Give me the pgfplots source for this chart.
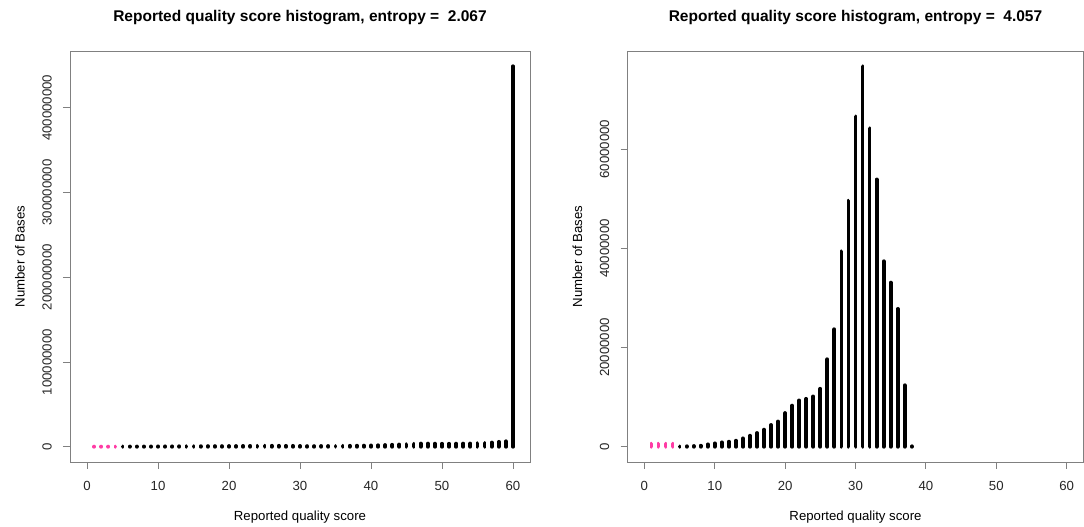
\documentclass[border=0pt]{standalone}
\usepackage{fontspec}
\setmainfont{Liberation Sans}
\usepackage{pgfplots}
\pgfplotsset{compat=1.18}
\definecolor{rpink}{RGB}{255,60,165}
\definecolor{boxgray}{RGB}{128,128,128}
\pgfplotsset{
  rstyle/.style={
    scale only axis,
    height=411pt,
    xmin=-2.4, xmax=62.4,
    axis line style={draw=boxgray, line width=0.8pt},
    tick style={draw=boxgray, line width=0.8pt},
    tick align=outside,
    major tick length=7pt,
    xtick pos=bottom, ytick pos=left,
    xtick={0,10,20,30,40,50,60},
    xticklabels={0,10,20,30,40,50,60},
    /pgf/number format/assume math mode=true,
    ticklabel style={font=\fontsize{13.2}{15}\selectfont, text=black!85},
    xticklabel style={anchor=center, yshift=-17pt},
    yticklabel style={rotate=90, anchor=center, yshift=16pt},
    every axis x label/.style={at={(axis description cs:0.5,0)}, yshift=-55pt, anchor=center, font=\fontsize{13.2}{15}\selectfont},
    every axis y label/.style={at={(axis description cs:0,0.5)}, xshift=-50pt, anchor=center, rotate=90, font=\fontsize{13.2}{15}\selectfont},
    every axis title/.style={at={(axis description cs:0.5,1)}, yshift=33pt, anchor=center, font=\bfseries\fontsize{15.5}{18}\selectfont},
    xlabel={Reported quality score},
    ylabel={Number of Bases},
    scaled y ticks=false,
  },
  bars/.style={ycomb, line width=3.8pt, line cap=round, mark=none},
}
\begin{document}
\begin{tikzpicture}
\path[use as bounding box] (0,0) rectangle (1084pt,527pt);
\begin{axis}[rstyle, at={(70pt,65pt)}, anchor=south west, width=460pt,
  ymin=-1.796e7, ymax=4.67e8,
  ytick={0,1e8,2e8,3e8,4e8},
  yticklabels={0,100000000,200000000,300000000,400000000},
  title={Reported quality score histogram, entropy =\ \ 2.067}]
\addplot[bars, rpink] coordinates {(1,2e5) (2,2e5) (3,2e5) (4,2e5)};
\addplot[bars, black] coordinates {
(5,3e5) (6,3e5) (7,3e5) (8,4e5) (9,4e5) (10,5e5) (11,5e5) (12,5e5) (13,6e5) (14,6e5)
(15,7e5) (16,7e5) (17,8e5) (18,8e5) (19,8e5) (20,9e5) (21,9e5) (22,1.0e6) (23,1.0e6) (24,1.1e6)
(25,1.2e6) (26,1.2e6) (27,1.2e6) (28,1.1e6) (29,1.1e6) (30,1.0e6) (31,0.8e6) (32,0.8e6) (33,0.9e6) (34,0.9e6)
(35,1.0e6) (36,1.1e6) (37,1.2e6) (38,1.3e6) (39,1.4e6) (40,1.6e6) (41,1.8e6) (42,2.1e6) (43,2.4e6) (44,2.7e6)
(45,3.0e6) (46,3.4e6) (47,3.8e6) (48,3.8e6) (49,3.7e6) (50,3.6e6) (51,3.6e6) (52,3.7e6) (53,3.8e6) (54,3.9e6)
(55,4.2e6) (56,4.4e6) (57,5.0e6) (58,5.8e6) (59,6.5e6) (60,4.49e8)};
\end{axis}
\begin{axis}[rstyle, at={(627.5pt,65pt)}, anchor=south west, width=456pt,
  ymin=-3.07e6, ymax=7.98e7,
  ytick={0,2e7,4e7,6e7},
  yticklabels={0,20000000,40000000,60000000},
  title={Reported quality score histogram, entropy =\ \ 4.057}]
\addplot[bars, rpink] coordinates {(1,6.2e5) (2,6.2e5) (3,6.2e5) (4,6.2e5)};
\addplot[bars, black] coordinates {
(5,5e4) (6,1e5) (7,1.5e5) (8,2.2e5) (9,4.9e5) (10,6.9e5) (11,8.9e5) (12,1.03e6) (13,1.23e6) (14,1.7e6)
(15,2.24e6) (16,2.78e6) (17,3.46e6) (18,4.4e6) (19,5.1e6) (20,6.8e6) (21,8.3e6) (22,9.35e6) (23,9.67e6) (24,1.015e7)
(25,1.17e7) (26,1.765e7) (27,2.37e7) (28,3.94e7) (29,4.96e7) (30,6.66e7) (31,7.67e7) (32,6.42e7) (33,5.39e7) (34,3.74e7)
(35,3.31e7) (36,2.78e7) (37,1.24e7) (38,1e5)};
\end{axis}
\end{tikzpicture}
\end{document}
